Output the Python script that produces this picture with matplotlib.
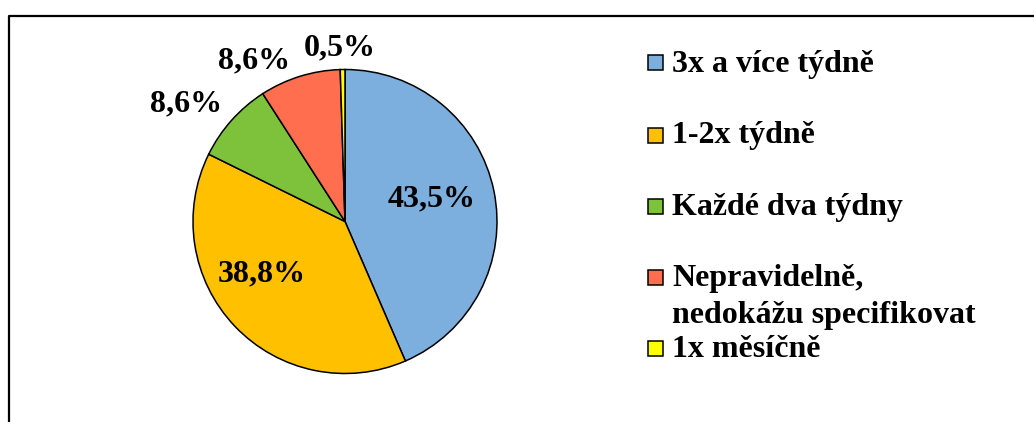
import matplotlib
matplotlib.use("Agg")
import matplotlib.pyplot as plt
from matplotlib.patches import Rectangle

# ---- data ----
categories = ["3x a více týdně", "1-2x týdně", "Každé dva týdny",
              "Nepravidelně,\nnedokážu specifikovat", "1x měsíčně"]
values = [43.5, 38.8, 8.6, 8.6, 0.5]
colors = ["#7CAEDE", "#FFC000", "#7EC23C", "#FF6E4E", "#FFFF00"]

# ---- layout ----
W, H = 1034, 422
label_pos = [(0.572, 0.150), (-0.546, -0.344), (-1.046, 0.775),
             (-0.599, 1.058), (-0.033, 1.143)]
legend_sq_y = [62, 135, 206, 277, 348]       # square centres (px)
legend_base = [72, 143, 215, 286, 357]       # first-line baselines (px)
LINE_GAP = 37

plt.rcParams["font.family"] = ["Liberation Serif", "DejaVu Serif"]
plt.rcParams["font.weight"] = "bold"
FS = 23

fig = plt.figure(figsize=(W / 100, H / 100), dpi=100)
fig.patch.set_facecolor("white")

cx, cy, r = 345, 221.5, 152
ax = fig.add_axes([(cx - r) / W, (H - cy - r) / H, 2 * r / W, 2 * r / H])
wedges, _ = ax.pie(values, colors=colors, startangle=90, counterclock=False,
                   wedgeprops=dict(edgecolor="black", linewidth=1.1))
ax.set_xlim(-1, 1)
ax.set_ylim(-1, 1)
ax.set_aspect("equal")
ax.axis("off")

for v, (x, y) in zip(values, label_pos):
    ax.text(x, y, f"{v:.1f}".replace(".", ",") + "%", ha="center", va="center",
            fontsize=FS, fontweight="bold", clip_on=False)

# overlay in pixel coordinates for frame and legend
ov = fig.add_axes([0, 0, 1, 1], zorder=-1)
ov.set_xlim(0, W)
ov.set_ylim(H, 0)
ov.axis("off")
ov.plot([9, 9, W], [H, 15.5, 15.5], color="black", linewidth=1.6,
        solid_capstyle="projecting")

leg = fig.add_axes([0, 0, 1, 1])
leg.set_xlim(0, W)
leg.set_ylim(H, 0)
leg.axis("off")
for cat, col, sy, by in zip(categories, colors, legend_sq_y, legend_base):
    leg.add_patch(Rectangle((648, sy - 7.5), 15, 15, facecolor=col,
                            edgecolor="black", linewidth=1.1))
    for i, line in enumerate(cat.split("\n")):
        leg.text(672, by + i * LINE_GAP, line, ha="left", va="baseline",
                 fontsize=FS, fontweight="bold")

fig.savefig("out.png", dpi=100, facecolor="white")
